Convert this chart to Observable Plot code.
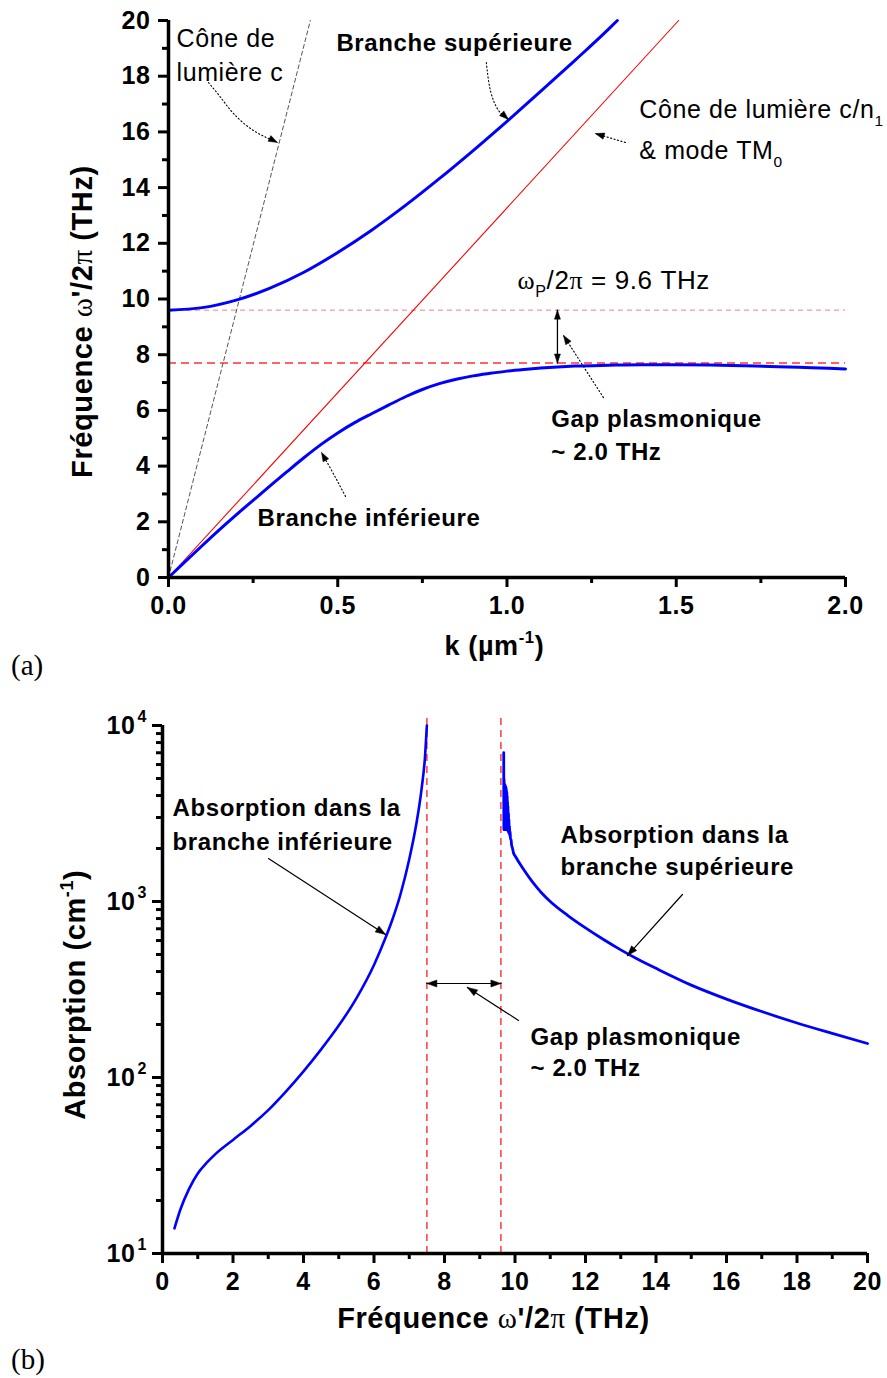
<!DOCTYPE html>
<html><head><meta charset="utf-8">
<script src="https://cdn.jsdelivr.net/npm/d3@7"></script>
<script src="https://cdn.jsdelivr.net/npm/@observablehq/plot@0.6"></script>
<style>
body{margin:0;background:#fff;width:887px;height:1378px;position:relative;overflow:hidden}
#a,#b{position:absolute;left:0}
#a{top:0}#b{top:680px}
.panel{position:absolute;left:11px;font-family:"Liberation Serif",serif;font-size:29px;color:#000;line-height:1}
svg text{letter-spacing:0.6px}
</style></head><body>
<div id="a"></div><div id="b"></div>
<div class="panel" style="top:651px">(a)</div>
<div class="panel" style="top:1345px">(b)</div>
<script>
// ---------- Panel (a): dispersion ----------
const kUpper = [0,0.1,0.2,0.3,0.4,0.5,0.6,0.7,0.8,0.9,1.0,1.1,1.2,1.3,1.326];
const fUpper = [9.6,9.69,9.96,10.39,10.96,11.67,12.47,13.36,14.32,15.33,16.38,17.46,18.56,19.69,20];
const kLower = [0,0.05,0.1,0.15,0.2,0.25,0.3,0.35,0.4,0.45,0.5,0.55,0.6,0.65,0.7,0.75,0.8,0.85,0.9,0.95,1.0,1.05,1.1,1.15,1.2,1.3,1.4,1.5,1.6,1.7,1.8,1.9,2.0];
const fLower = [0,0.58,1.15,1.71,2.25,2.77,3.29,3.8,4.3,4.77,5.19,5.56,5.88,6.19,6.49,6.75,6.96,7.12,7.24,7.33,7.41,7.47,7.52,7.56,7.59,7.62,7.64,7.64,7.63,7.6,7.57,7.53,7.49];
const kConeC = [0,0.419], fConeC = [0,20];       // light cone c
const kConeN = [0,1.507], fConeN = [0,20];       // light cone c/n1
const fPlasma = 9.6;                              // omega_P / 2pi
const fGapTop = 7.7;                              // lower-branch asymptote
const kTicksMajor = [0,0.5,1,1.5,2], kTicksMinor = [0.25,0.75,1.25,1.75];
const fTicksMajor = [0,2,4,6,8,10,12,14,16,18,20], fTicksMinor = [1,3,5,7,9,11,13,15,17,19];

// ---------- Panel (b): absorption ----------
const freqLowAbs = [0.34,0.5,0.75,1.0,1.25,1.5,2.0,2.5,3.0,3.5,4.0,4.5,5.0,5.5,6.0,6.33,6.5,6.75,7.0,7.2,7.35,7.45,7.5];
const absLow =     [13.9,17.6,23.2,28.5,32.7,36.7,44.2,53.1,65.3,83.2,108.4,144.5,197.2,281.8,436,624,767,1096,1738,2754,4365,6761,10000];
const freqUpAbs = [9.68,9.685,9.69,9.695,9.70,9.705,9.71,9.715,9.72,9.725,9.73,9.735,9.74,9.745,9.75,9.755,9.76,9.765,9.77,9.775,9.78,9.785,9.79,9.795,9.80,9.805,9.815,9.82,9.83,9.835,9.845,9.85,9.865,9.87,9.89,9.9,9.93,9.96,10.0,10.25,10.5,10.75,11.0,11.5,12.0,12.5,13.0,13.5,14.0,15.0,16.0,17.0,18.0,19.0,20.0];
const absUp =     [7000,2560,5000,2560,4700,2560,4600,2560,4600,2560,4500,2560,4500,2560,4400,2560,4300,2560,4200,2560,4000,2540,3700,2500,3500,2480,3200,2450,2950,2400,2700,2350,2500,2250,2250,2120,2000,1880,1820,1514,1288,1122,1000,832,708,610,531,468,417,335,279,237,204,178,156];
const gapLines = [7.5, 9.6];
const bxMajor = [0,2,4,6,8,10,12,14,16,18,20], bxMinor = [1,3,5,7,9,11,13,15,17,19];
const byMajor = [10,100,1000,10000], byExp = ["1","2","3","4"];
const byMinor = [20,30,40,50,60,70,80,90,200,300,400,500,600,700,800,900,2000,3000,4000,5000,6000,7000,8000,9000];

// ---------- annotations ----------
const annTopBold = [
  {x:0.496,y:19.17,t:"Branche supérieure"},
  {x:1.131,y:5.67,t:"Gap plasmonique"},
  {x:1.131,y:4.49,t:"~ 2.0 THz"},
  {x:0.263,y:2.12,t:"Branche inférieure"}];
const annTopReg = [
  {x:0.0236,y:19.32,t:"Cône de"},
  {x:0.0236,y:18.13,t:"lumière c"},
  {x:1.391,y:16.77,t:"Cône de lumière c/n_{1}"},
  {x:1.391,y:15.30,t:"& mode TM_{0}"}];
const annOmega = [{x:1.031,y:10.66,t:"§{ω}_{P}/2§{π} = 9.6 THz"}];
const annBot = [
  {x:0.284,y:3377,t:"Absorption dans la"},
  {x:0.284,y:2163,t:"branche inférieure"},
  {x:11.29,y:2372,t:"Absorption dans la"},
  {x:11.29,y:1561,t:"branche supérieure"},
  {x:10.44,y:169,t:"Gap plasmonique"},
  {x:10.44,y:112.5,t:"~ 2.0 THz"}];
const dottedTop = {
  c:   [[0.118,17.77],[0.154,17.24],[0.192,16.66],[0.251,16.05],[0.322,15.62]],
  sup: [[0.939,18.49],[0.951,17.49],[0.975,16.77],[1.004,16.45]],
  n:   [[1.350,15.62],[1.261,15.94]],
  gap: [[1.285,6.46],[1.167,8.69]],
  inf: [[0.523,2.91],[0.487,3.73],[0.452,4.49]]};
const gapArrowTop = [[1.149,fPlasma],[1.149,fGapTop]];
const solidBot = {
  low: [[3.007,1754],[6.326,650]],
  up:  [[14.75,1096],[13.19,493]],
  gap: [[10.1,211],[8.65,325]]};
const gapArrowBot = [[7.5,342],[9.6,342]];

// ---------- helpers ----------
const A = {w:887,h:680,ml:168,mr:42,mt:20,mb:103};
const B = {w:887,h:698,ml:162,mr:20,mt:45,mb:125};
const ax = d3.scaleLinear([0,2],[A.ml,A.w-A.mr]), ay = d3.scaleLinear([0,20],[A.h-A.mb,A.mt]);
const bx = d3.scaleLinear([0,20],[B.ml,B.w-B.mr]), by = d3.scaleLog([10,1e4],[B.h-B.mb,B.mt]);
function head(sx, sy, tip, from, id, len=10, half=3.5){
  const tx=sx(tip[0]), ty=sy(tip[1]), fx=sx(from[0]), fy=sy(from[1]);
  let dx=tx-fx, dy=ty-fy; const L=Math.hypot(dx,dy); dx/=L; dy/=L;
  const cx=tx-dx*len, cy=ty-dy*len;
  return [[tx,ty],[cx-dy*half,cy+dx*half],[cx+dy*half,cy-dx*half],[tx,ty]]
    .map(([x,y])=>({x:sx.invert(x),y:sy.invert(y),id}));
}
const toRows = (arr,id)=>arr.map(([x,y])=>({x,y,id}));
function rich(svg){
  svg.querySelectorAll("text").forEach(t=>{
    if (t.children.length) return;
    const s=t.textContent; if(!/[\^_§]\{/.test(s)) return;
    t.textContent="";
    const re=/([\^_§])\{([^}]*)\}|([^\^_§]+)/g; let m, cur=0;
    while((m=re.exec(s))){
      const ts=document.createElementNS("http://www.w3.org/2000/svg","tspan");
      let shift=0, scale=1;
      if(m[1]==="^"){shift=-0.42;scale=0.62;ts.textContent=m[2];}
      else if(m[1]==="_"){shift=0.3;scale=0.62;ts.textContent=m[2];}
      else if(m[1]==="§"){ts.textContent=m[2];ts.setAttribute("font-family","Liberation Serif");ts.setAttribute("font-weight","normal");}
      else ts.textContent=m[3];
      if(scale!==1) ts.setAttribute("font-size",scale+"em");
      const d=(shift-cur)/scale; if(d) ts.setAttribute("dy",d.toFixed(3)+"em");
      cur=shift; t.appendChild(ts);
    }
  });
  svg.querySelectorAll('g[aria-label="axis-title"] text').forEach(t=>t.style.letterSpacing="2.7px");
}
const baseStyle = "font-family:'Liberation Sans',Arial,sans-serif;font-size:25px;font-weight:bold;background:#fff;overflow:visible;";

// ---------- panel (a) ----------
const upper = kUpper.map((k,i)=>({k,f:fUpper[i]}));
const lower = kLower.map((k,i)=>({k,f:fLower[i]}));
const coneC = kConeC.map((k,i)=>({k,f:fConeC[i]}));
const coneN = kConeN.map((k,i)=>({k,f:fConeN[i]}));
const dotRowsTop = Object.entries(dottedTop).flatMap(([id,a])=>toRows(a,id));
const headsTop = [
  ...Object.entries(dottedTop).flatMap(([id,a])=>head(ax,ay,a[a.length-1],a[a.length-2],"h"+id,9,3.2)),
  ...head(ax,ay,gapArrowTop[0],gapArrowTop[1],"ga1",9,3),
  ...head(ax,ay,gapArrowTop[1],gapArrowTop[0],"ga2",9,3)];

const plotA = Plot.plot({
  width:A.w, height:A.h, marginLeft:A.ml, marginRight:A.mr, marginTop:A.mt, marginBottom:A.mb,
  style: baseStyle,
  x:{domain:[0,2], label:null},
  y:{domain:[0,20], label:null},
  marks:[
    Plot.ruleY([fPlasma],{x1:0,x2:2,stroke:"#f08080",strokeWidth:1,strokeDasharray:"5,4"}),
    Plot.ruleY([fGapTop],{x1:0,x2:2,stroke:"#ff3030",strokeWidth:1.5,strokeDasharray:"8,5"}),
    Plot.line(coneC,{x:"k",y:"f",stroke:"#555",strokeWidth:1,strokeDasharray:"4,3"}),
    Plot.line(coneN,{x:"k",y:"f",stroke:"#ff0000",strokeWidth:1.1}),
    Plot.line(upper,{x:"k",y:"f",stroke:"#0000ff",strokeWidth:3,curve:"monotone-x"}),
    Plot.line(lower,{x:"k",y:"f",stroke:"#0000ff",strokeWidth:3,curve:"monotone-x"}),
    Plot.line(dotRowsTop,{x:"x",y:"y",z:"id",curve:"natural",stroke:"#000",strokeWidth:1.1,strokeDasharray:"1.2,2.4"}),
    Plot.line(gapArrowTop.map(([x,y])=>({x,y})),{x:"x",y:"y",stroke:"#000",strokeWidth:1.3}),
    Plot.line(headsTop,{x:"x",y:"y",z:"id",fill:"#000",stroke:"#000",strokeWidth:0.5}),
    Plot.ruleX([0],{y1:0,y2:20,stroke:"#000",strokeWidth:3.5}),
    Plot.ruleY([0],{x1:0,x2:2,stroke:"#000",strokeWidth:3.5}),
    Plot.axisY(fTicksMajor,{tickSize:10,tickPadding:8,strokeWidth:3,fontSize:25,fontWeight:"bold",label:null}),
    Plot.axisY(fTicksMinor,{tickSize:6,strokeWidth:3,tickFormat:()=>"",label:null}),
    Plot.axisX(kTicksMajor,{tickSize:10,tickPadding:9,strokeWidth:3,fontSize:25,fontWeight:"bold",tickFormat:d3.format(".1f"),label:null}),
    Plot.axisX(kTicksMinor,{tickSize:6,strokeWidth:3,tickFormat:()=>"",label:null}),
    Plot.text(annTopBold,{x:"x",y:"y",text:"t",textAnchor:"start",fontSize:24,fontWeight:"bold"}),
    Plot.text(annTopReg,{x:"x",y:"y",text:"t",textAnchor:"start",fontSize:25,fontWeight:"normal"}),
    Plot.text(annOmega,{x:"x",y:"y",text:"t",textAnchor:"start",fontSize:26,fontWeight:"normal"}),
    Plot.text(["Fréquence §{ω}'/2§{π} (THz)"],{frameAnchor:"left",y:9.19,dx:-86,rotate:-90,textAnchor:"middle",text:d=>d,fontSize:29,fontWeight:"bold",ariaLabel:"axis-title"}),
    Plot.text(["k (µm^{-1})"],{frameAnchor:"bottom",x:0.963,dy:77,textAnchor:"middle",text:d=>d,fontSize:27,fontWeight:"bold"})
  ]
});
document.getElementById("a").appendChild(plotA);
rich(plotA);

// ---------- panel (b) ----------
const lowAbs = freqLowAbs.map((f,i)=>({f,a:absLow[i]}));
const upAbs = freqUpAbs.map((f,i)=>({f,a:absUp[i]}));
const solidRowsBot = Object.entries(solidBot).flatMap(([id,a])=>toRows(a,id));
const headsBot = [
  ...Object.entries(solidBot).flatMap(([id,a])=>head(bx,by,a[a.length-1],a[a.length-2],"h"+id,10,3.5)),
  ...head(bx,by,gapArrowBot[0],gapArrowBot[1],"g1",10,3.5),
  ...head(bx,by,gapArrowBot[1],gapArrowBot[0],"g2",10,3.5)];

const plotB = Plot.plot({
  width:B.w, height:B.h, marginLeft:B.ml, marginRight:B.mr, marginTop:B.mt, marginBottom:B.mb,
  style: baseStyle,
  x:{domain:[0,20], label:null},
  y:{type:"log", domain:[10,1e4], label:null},
  marks:[
    Plot.ruleX(gapLines,{y1:10,y2:11400,stroke:"#ff3a3a",strokeWidth:1.5,strokeDasharray:"7,5"}),
    Plot.line(lowAbs,{x:"f",y:"a",stroke:"#0000ff",strokeWidth:2.6,curve:"monotone-x"}),
    Plot.line(upAbs,{x:"f",y:"a",stroke:"#0000ff",strokeWidth:2.8,curve:"monotone-x"}),
    Plot.line(solidRowsBot,{x:"x",y:"y",z:"id",stroke:"#000",strokeWidth:1.2}),
    Plot.line(gapArrowBot.map(([x,y])=>({x,y})),{x:"x",y:"y",stroke:"#000",strokeWidth:1.2}),
    Plot.line(headsBot,{x:"x",y:"y",z:"id",fill:"#000",stroke:"#000",strokeWidth:0.5}),
    Plot.ruleX([0],{y1:10,y2:1e4,stroke:"#000",strokeWidth:3.5}),
    Plot.ruleY([10],{x1:0,x2:20,stroke:"#000",strokeWidth:3.5}),
    Plot.axisY(byMajor,{tickSize:10,tickPadding:17,strokeWidth:3,fontSize:25,fontWeight:"bold",tickFormat:()=>"10",label:null}),
    Plot.text(byMajor,{y:d=>d,text:(d,i)=>byExp[i],frameAnchor:"left",dx:-25,dy:-9,textAnchor:"start",fontSize:16,fontWeight:"bold"}),
    Plot.axisY(byMinor,{tickSize:6,strokeWidth:3,tickFormat:()=>"",label:null}),
    Plot.axisX(bxMajor,{tickSize:10,tickPadding:9,strokeWidth:3,fontSize:25,fontWeight:"bold",tickFormat:d=>String(d),label:null}),
    Plot.axisX(bxMinor,{tickSize:6,strokeWidth:3,tickFormat:()=>"",label:null}),
    Plot.text(annBot,{x:"x",y:"y",text:"t",textAnchor:"start",fontSize:24,fontWeight:"bold"}),
    Plot.text(["Absorption (cm^{-1})"],{frameAnchor:"left",y:295,dx:-87,rotate:-90,textAnchor:"middle",text:d=>d,fontSize:29,fontWeight:"bold",ariaLabel:"axis-title"}),
    Plot.text(["Fréquence §{ω}'/2§{π} (THz)"],{frameAnchor:"bottom",x:9.39,dy:74,textAnchor:"middle",text:d=>d,fontSize:29,fontWeight:"bold",ariaLabel:"axis-title"})
  ]
});
document.getElementById("b").appendChild(plotB);
rich(plotB);
</script></body></html>
